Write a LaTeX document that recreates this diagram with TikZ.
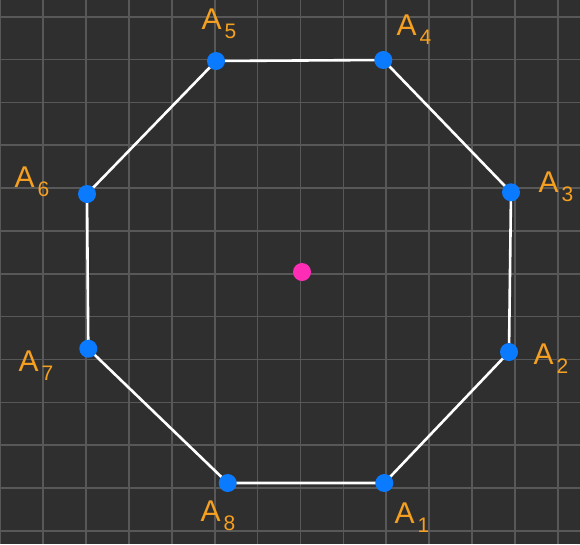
\documentclass[tikz,border=0pt]{standalone}
\usepackage{fontspec}
\setmainfont{Liberation Sans}
\definecolor{bg}{HTML}{2F2F2F}
\definecolor{gridc}{HTML}{585858}
\definecolor{ptblue}{HTML}{0A7AFF}
\definecolor{ptpink}{HTML}{FF2DB5}
\definecolor{lab}{HTML}{F5A020}
\tikzset{
  vtx/.style={circle,fill=ptblue,inner sep=0pt,minimum size=18pt},
  ctr/.style={circle,fill=ptpink,inner sep=0pt,minimum size=18pt},
  edge/.style={white,line width=2.6pt},
  lbl/.style={text=lab,font=\fontsize{30}{30}\selectfont,inner sep=0pt},
  gridline/.style={gridc,line width=1.6pt}
}
\newcommand{\lab}[1]{A\kern3pt\raisebox{-0.3em}{\fontsize{21}{21}\selectfont #1}}
\begin{document}
\begin{tikzpicture}[x=1pt,y=-1pt]
\fill[bg] (0,0) rectangle (580,544);
\useasboundingbox (0,0) rectangle (580,544);
\foreach \k in {0,...,13} {
  \draw[gridline] ({0.4+42.87*\k},0) -- ({0.4+42.87*\k},544);
}
\foreach \k in {0,...,12} {
  \draw[gridline] (0,{16.7+42.85*\k}) -- (580,{16.7+42.85*\k});
}
\coordinate (p1) at (384.3,483);
\coordinate (p2) at (509,352);
\coordinate (p3) at (511,192.3);
\coordinate (p4) at (383.3,60);
\coordinate (p5) at (216,61);
\coordinate (p6) at (87,194);
\coordinate (p7) at (88.3,348.7);
\coordinate (p8) at (227.7,483);
\draw[edge] (p1) -- (p2) -- (p3) -- (p4) -- (p5) -- (p6) -- (p7) -- (p8) -- cycle;
\foreach \i in {1,...,8} { \node[vtx] (v\i) at (p\i) {}; }
\node[ctr] (o) at (302,272) {};
\node[lbl] (l1) at (412,518) {\lab{1}};
\node[lbl] (l2) at (551,359) {\lab{2}};
\node[lbl] (l3) at (556,187) {\lab{3}};
\node[lbl] (l4) at (414,30) {\lab{4}};
\node[lbl] (l5) at (219,24) {\lab{5}};
\node[lbl] (l6) at (32,182) {\lab{6}};
\node[lbl] (l7) at (36,366) {\lab{7}};
\node[lbl] (l8) at (218,516) {\lab{8}};
\end{tikzpicture}
\end{document}
